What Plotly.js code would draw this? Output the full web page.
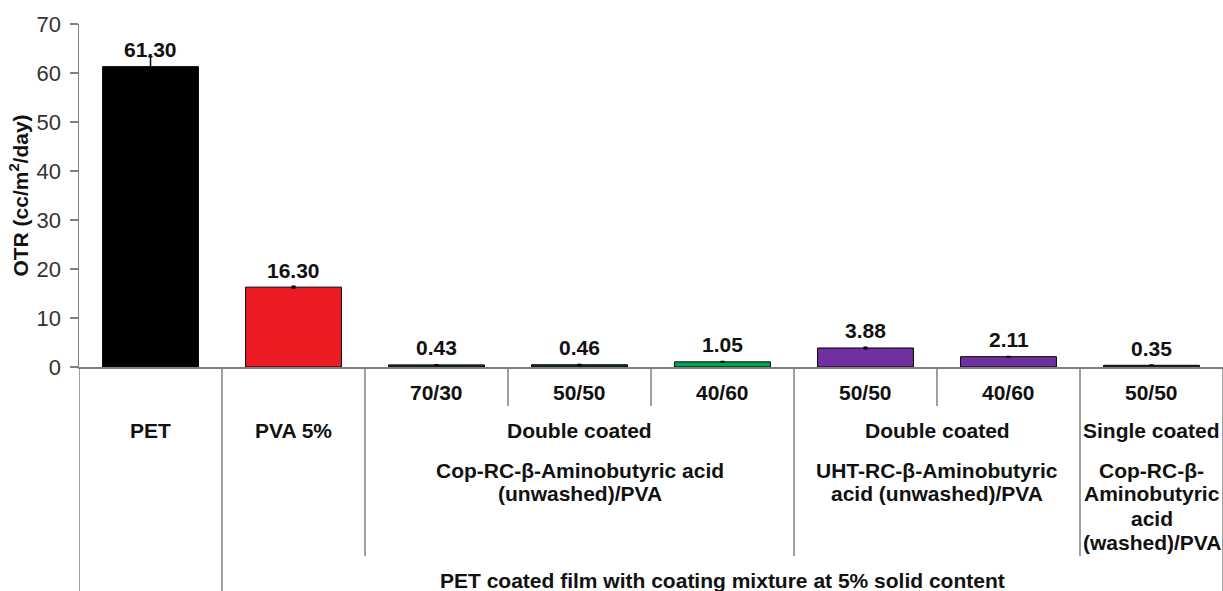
<!DOCTYPE html>
<html>
<head>
<meta charset="utf-8">
<script src="https://cdn.plot.ly/plotly-3.0.1.min.js"></script>
<style>html,body{margin:0;padding:0;background:#fff;}#chart{width:1223px;height:591px;}</style>
</head>
<body>
<div id="chart"></div>
<script>
// ---- data ----
const categories = ['PET', 'PVA 5%', '70/30', '50/50', '40/60', '50/50', '40/60', '50/50'];
const otr = [61.30, 16.30, 0.43, 0.46, 1.05, 3.88, 2.11, 0.35];
const otrErr = [2.0, 0.2, 0.05, 0.05, 0.05, 0.15, 0.05, 0.05];
const barColors = ['#000000', '#ed1c24', '#1e3a2a', '#1e3a2a', '#00a651', '#7030a0', '#7030a0', '#3a3a3a'];
const yTitle = 'OTR (cc/m<sup>2</sup>/day)';
const coatingGroups = [
  {from: 2, to: 4, text: 'Double coated'},
  {from: 5, to: 6, text: 'Double coated'},
  {from: 7, to: 7, text: 'Single coated'}
];
const materialGroups = [
  {from: 2, to: 4, lines: ['Cop-RC-β-Aminobutyric acid', '(unwashed)/PVA']},
  {from: 5, to: 6, lines: ['UHT-RC-β-Aminobutyric', 'acid (unwashed)/PVA']},
  {from: 7, to: 7, lines: ['Cop-RC-β-', 'Aminobutyric', 'acid', '(washed)/PVA']}
];
const outerGroup = {from: 1, to: 7, text: 'PET coated film with coating mixture at 5% solid content'};

// ---- layout helpers ----
const W = 1223, H = 591, mL = 79, mR = 0, mT = 24, mB = 224;
const plotH = H - mT - mB;
const py = pix => -(pix - (H - mB)) / plotH;   // pixel row below axis -> paper y
const FONT = '"Liberation Sans", Arial, sans-serif';
const LBL = 21;
const xs = categories.map((_, i) => i);

const annotations = [];
function label(x, pix, text) {
  annotations.push({
    x: x, y: py(pix), xref: 'x', yref: 'paper', text: text, showarrow: false,
    xanchor: 'center', yanchor: 'middle',
    font: {family: FONT, size: LBL, color: '#111', weight: 'bold'}
  });
}
// value labels
otr.forEach((v, i) => {
  annotations.push({
    x: i, y: v, xref: 'x', yref: 'y', text: v.toFixed(2), showarrow: false,
    xanchor: 'center', yanchor: 'middle', yshift: 17,
    font: {family: FONT, size: LBL, color: '#111', weight: 'bold'}
  });
});
// first-level labels
label(0, 430, categories[0]);
label(1, 430, categories[1]);
for (let i = 2; i < categories.length; i++) label(i, 393, categories[i]);
coatingGroups.forEach(g => label((g.from + g.to) / 2, 430, g.text));
const lineRows = [470, 493, 518, 542];
materialGroups.forEach(g => g.lines.forEach((t, k) => label((g.from + g.to) / 2, lineRows[k], t)));
label((outerGroup.from - 0.5 + outerGroup.to + 0.5) / 2, 580, outerGroup.text);

// divider lines below the axis
const dividers = [
  {x: -0.5, bottom: 591}, {x: 0.5, bottom: 591}, {x: 1.5, bottom: 556},
  {x: 2.5, bottom: 406}, {x: 3.5, bottom: 406}, {x: 4.5, bottom: 556},
  {x: 5.5, bottom: 406}, {x: 6.5, bottom: 556}, {x: 7.5, bottom: 591}
];
const shapes = dividers.map(d => ({
  type: 'line', xref: 'x', yref: 'paper', x0: d.x, x1: d.x, y0: 0, y1: py(d.bottom),
  line: {color: '#7f7f7f', width: 1.5}
}));

const trace = {
  type: 'bar', x: xs, y: otr, width: 0.67,
  marker: {color: barColors, line: {color: '#000', width: 1}},
  error_y: {type: 'data', array: otrErr, visible: true, color: '#000', thickness: 1.5, width: 2},
  hoverinfo: 'skip'
};

const layout = {
  width: W, height: H,
  margin: {l: mL, r: mR, t: mT, b: mB, pad: 0},
  paper_bgcolor: '#fff', plot_bgcolor: '#fff',
  showlegend: false,
  xaxis: {range: [-0.5, 7.5], showticklabels: false, ticks: '', showgrid: false, zeroline: false,
          showline: true, linecolor: '#7f7f7f', linewidth: 1.5, fixedrange: true},
  yaxis: {range: [0, 70], dtick: 10, tick0: 0, ticks: 'outside', ticklen: 8, tickwidth: 1.5,
          tickcolor: '#7f7f7f', showline: true, linecolor: '#7f7f7f', linewidth: 1.5,
          showgrid: false, zeroline: false, ticklabelstandoff: 4,
          tickfont: {family: FONT, size: 22, color: '#333'},
          title: {text: yTitle, standoff: 2, font: {family: FONT, size: 21, color: '#111', weight: 'bold'}}},
  annotations: annotations,
  shapes: shapes
};

Plotly.newPlot('chart', [trace], layout, {staticPlot: true, displayModeBar: false});
</script>
</body>
</html>
